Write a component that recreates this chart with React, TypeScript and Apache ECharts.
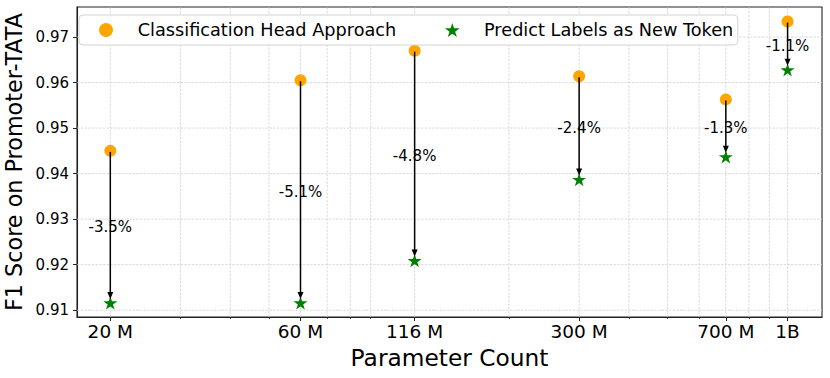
import React, { useEffect, useRef } from "react";
import * as echarts from "echarts";

const FONT = "DejaVu Sans";

const paramCounts = [20e6, 60e6, 116e6, 300e6, 700e6, 1e9];
const paramLabels = ["20 M", "60 M", "116 M", "300 M", "700 M", "1B"];
const minorParamTicks = [30e6, 40e6, 50e6, 70e6, 80e6, 90e6, 200e6, 400e6, 500e6, 600e6, 800e6, 900e6];
const classificationHead = [0.945, 0.9605, 0.967, 0.9614, 0.9563, 0.9734];
const predictLabels = [0.9116, 0.9116, 0.9209, 0.9387, 0.9437, 0.9628];
const changeLabels = ["-3.5%", "-5.1%", "-4.8%", "-2.4%", "-1.3%", "-1.1%"];
const yTicks = [0.91, 0.92, 0.93, 0.94, 0.95, 0.96, 0.97];
const yTickLabels = ["0.91", "0.92", "0.93", "0.94", "0.95", "0.96", "0.97"];

const X_MIN = 16.5e6;
const X_MAX = 1.22e9;
const Y_MIN = 0.9085;
const Y_MAX = 0.9766;

function starPath(): string {
  const pts: string[] = [];
  for (let i = 0; i < 10; i++) {
    const r = i % 2 === 0 ? 1 : 0.382;
    const a = ((-90 + i * 36) * Math.PI) / 180;
    pts.push(`${(r * Math.cos(a)).toFixed(4)},${(r * Math.sin(a)).toFixed(4)}`);
  }
  return "path://M" + pts.join("L") + "Z";
}
const STAR = starPath();

function nearestIndex(arr: number[], v: number): number {
  let best = 0;
  let bd = Infinity;
  arr.forEach((a, i) => {
    const d = Math.abs(a - v) / Math.abs(a);
    if (d < bd) {
      bd = d;
      best = i;
    }
  });
  return best;
}

export default function App() {
  const ref = useRef<HTMLDivElement>(null);
  useEffect(() => {
    if (!ref.current) return;
    const chart = echarts.init(ref.current, null, { renderer: "svg" });
    const gridStyle = { stroke: "#d2d2d2", lineWidth: 0.8, lineDash: [2.5, 1.2] };
    const option: any = {
      animation: false,
      backgroundColor: "#fff",
      textStyle: { fontFamily: FONT },
      grid: {
        left: 77,
        right: 8,
        top: 7,
        bottom: 61,
        outerBoundsMode: "none",
        containLabel: false,
        show: true,
        borderColor: "#222",
        borderWidth: 1.1,
        backgroundColor: "transparent",
      },
      legend: {
        left: 79,
        top: 15,
        orient: "horizontal",
        padding: [6, 4.5, 6, 20],
        itemGap: 48.7,
        itemWidth: 24,
        itemHeight: 14,
        borderColor: "#d3d3d3",
        borderWidth: 1,
        borderRadius: 4,
        backgroundColor: "rgba(255,255,255,0.85)",
        textStyle: { fontSize: 17.7, color: "#000", fontFamily: FONT, padding: [0, 0, 0, 14.7] },
        data: [
          { name: "Classification Head Approach", icon: "circle" },
          { name: "Predict Labels as New Token", icon: STAR },
        ],
      },
      xAxis: [
        {
          type: "log",
          logBase: 10,
          min: X_MIN,
          max: X_MAX,
          name: "Parameter Count",
          nameLocation: "middle",
          nameGap: 25,
          nameTextStyle: { fontSize: 23.3, color: "#000", fontFamily: FONT },
          axisLine: { show: true, lineStyle: { color: "#222", width: 1.1 } },
          axisTick: { show: true, length: 4, customValues: paramCounts, lineStyle: { color: "#222", width: 1 } },
          axisLabel: {
            show: true,
            customValues: paramCounts,
            fontSize: 18.5,
            color: "#000",
            fontFamily: FONT,
            margin: 5,
            formatter: (v: number) => paramLabels[nearestIndex(paramCounts, v)],
          },
          splitLine: { show: false },
          minorTick: { show: false },
        },
        {
          type: "log",
          logBase: 10,
          min: X_MIN,
          max: X_MAX,
          position: "bottom",
          axisLine: { show: false },
          axisTick: { show: true, length: 2, customValues: minorParamTicks, lineStyle: { color: "#222", width: 0.8 } },
          axisLabel: { show: false },
          splitLine: { show: false },
        },
      ],
      yAxis: {
        type: "value",
        min: Y_MIN,
        max: Y_MAX,
        name: "F1 Score on Promoter-TATA",
        nameLocation: "middle",
        nameGap: 36,
        nameTextStyle: { fontSize: 22.3, color: "#000", fontFamily: FONT },
        axisLine: { show: true, lineStyle: { color: "#222", width: 1.1 } },
        axisTick: { show: true, length: 4, customValues: yTicks, lineStyle: { color: "#222", width: 1 } },
        axisLabel: {
          show: true,
          customValues: yTicks,
          fontSize: 15,
          color: "#000",
          fontFamily: FONT,
          margin: 8,
          formatter: (v: number) => yTickLabels[nearestIndex(yTicks, v)],
        },
        splitLine: { show: false },
      },
      series: [
        {
          type: "custom",
          name: "xgrid",
          silent: true,
          z: 1,
          data: [...paramCounts, ...minorParamTicks].map((v) => [v, Y_MIN]),
          renderItem: (_p: any, api: any) => {
            const v = api.value(0);
            const a = api.coord([v, Y_MIN]);
            const b = api.coord([v, Y_MAX]);
            return { type: "line", shape: { x1: a[0], y1: a[1], x2: b[0], y2: b[1] }, style: gridStyle };
          },
        },
        {
          type: "custom",
          name: "ygrid",
          silent: true,
          z: 1,
          data: yTicks.map((v) => [X_MIN, v]),
          renderItem: (_p: any, api: any) => {
            const v = api.value(1);
            const a = api.coord([X_MIN, v]);
            const b = api.coord([X_MAX, v]);
            return { type: "line", shape: { x1: a[0], y1: a[1], x2: b[0], y2: b[1] }, style: gridStyle };
          },
        },
        {
          name: "Classification Head Approach",
          type: "scatter",
          z: 3,
          symbol: "circle",
          symbolSize: 12,
          itemStyle: { color: "#FFA500", opacity: 1 },
          data: paramCounts.map((x, i) => [x, classificationHead[i]]),
        },
        {
          name: "Predict Labels as New Token",
          type: "scatter",
          z: 3,
          symbol: STAR,
          symbolSize: 14,
          symbolKeepAspect: true,
          itemStyle: { color: "#008000", opacity: 1 },
          data: paramCounts.map((x, i) => [x, predictLabels[i]]),
        },
        {
          type: "custom",
          name: "arrows",
          silent: true,
          z: 5,
          clip: false,
          encode: { x: 0, y: [1, 2] },
          data: paramCounts.map((x, i) => [x, classificationHead[i], predictLabels[i]]),
          renderItem: (params: any, api: any) => {
            const x = api.value(0);
            const y1 = api.value(1);
            const y2 = api.value(2);
            const p1 = api.coord([x, y1]);
            const p2 = api.coord([x, y2]);
            const mid = api.coord([x, (y1 + y2) / 2]);
            const tipY = p2[1] - 4;
            const headLen = 7;
            const headW = 3;
            return {
              type: "group",
              children: [
                {
                  type: "text",
                  style: {
                    text: changeLabels[params.dataIndex],
                    x: p1[0],
                    y: mid[1],
                    align: "center",
                    verticalAlign: "middle",
                    fontSize: 15,
                    fontFamily: FONT,
                    fill: "#000",
                  },
                },
                {
                  type: "line",
                  shape: { x1: p1[0], y1: p1[1] + 1, x2: p1[0], y2: tipY - headLen + 1 },
                  style: { stroke: "#000", lineWidth: 1.5 },
                },
                {
                  type: "polygon",
                  shape: {
                    points: [
                      [p1[0] - headW, tipY - headLen],
                      [p1[0] + headW, tipY - headLen],
                      [p1[0], tipY],
                    ],
                  },
                  style: { fill: "#000" },
                },
              ],
            };
          },
        },
      ],
    };
    chart.setOption(option);
    return () => chart.dispose();
  }, []);
  return (
    <div
      ref={ref}
      style={{ position: "absolute", left: 0, top: 0, width: 830, height: 378, background: "#fff" }}
    />
  );
}
